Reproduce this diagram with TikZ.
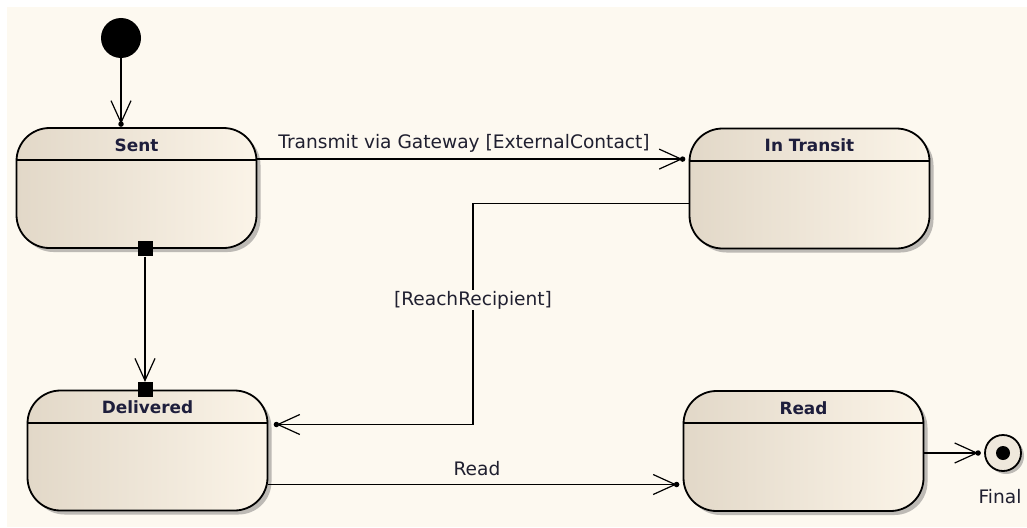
\documentclass[tikz,border=0pt]{standalone}
\usepackage{fontspec}
\setmainfont{DejaVu Sans}
\usetikzlibrary{arrows.meta,shadows,calc}
\definecolor{bgcream}{HTML}{FDF9F0}
\definecolor{boxL}{HTML}{E2D8C8}
\definecolor{boxR}{HTML}{FBF4E8}
\definecolor{shadowgray}{HTML}{BDBAB5}
\definecolor{finalfill}{HTML}{EFE8DC}
\definecolor{titlecol}{HTML}{1E1E3C}
\definecolor{lblcol}{HTML}{202030}
\begin{document}
\begin{tikzpicture}[x=1pt,y=-1pt,
  statebox/.style={draw=black, line width=1.8pt, rounded corners=33pt,
    minimum width=240pt, minimum height=120pt, inner sep=0pt,
    left color=boxL, right color=boxR,
    general shadow={fill=shadowgray, shadow xshift=4pt, shadow yshift=-4pt}},
  title/.style={font=\fontsize{16.9}{20}\selectfont\bfseries, text=titlecol},
  lbl/.style={font=\fontsize{18.6}{22}\selectfont, text=lblcol},
  trans/.style={draw, line width=1.6pt,
    -{Straight Barb[length=22pt,width=20pt,line width=1.2pt]}},
  tipdot/.style={fill=black, circle, inner sep=0pt, minimum size=5.5pt},
  sq/.style={fill=black, rectangle, inner sep=0pt, minimum size=15pt},
  hline/.style={line width=1.8pt}
]
\useasboundingbox (0,0) rectangle (1027,527);
\fill[white] (0,0) rectangle (1027,527);
\fill[bgcream] (7,7) rectangle (1027,527);

% states
\node[statebox] (sent) at (136.5,188) {};
\node[statebox] (transit) at (809.5,188.5) {};
\node[statebox] (delivered) at (147.5,450.5) {};
\node[statebox] (read) at (803.5,451) {};

\foreach \n in {sent,transit,delivered,read}{
  \draw[hline] ($(\n.north west)+(0,33)$) -- ($(\n.north east)+(0,33)$);
}
\node[title] (sentT) at ($(sent.north)+(0,18)$) {Sent};
\node[title] (transitT) at ($(transit.north)+(0,18)$) {In Transit};
\node[title] (deliveredT) at ($(delivered.north)+(0,18)$) {Delivered};
\node[title] (readT) at ($(read.north)+(0,18)$) {Read};

% initial
\node[circle, fill=black, minimum size=40pt, inner sep=0pt] (init) at (121,38) {};
\coordinate (t1) at ($(init.south |- sent.north)+(0,-3)$);
\draw[trans] (init) -- (t1);
\node[tipdot] at (t1) {};

% final
\node[circle, draw=black, line width=1.8pt, minimum size=36pt, inner sep=0pt,
  fill=finalfill, general shadow={fill=shadowgray, shadow xshift=3pt, shadow yshift=-3pt}] (final) at (1003,453) {};
\fill[black] (final.center) circle (7);
\node[lbl] (finalL) at (1000,497) {Final};

% Sent -> In Transit
\coordinate (t2s) at ($(sent.north east)+(0,32)$);
\coordinate (t2) at ($(transit.west |- t2s)+(-6,0)$);
\draw[trans] (t2s) -- (t2);
\node[tipdot] at (t2) {};
\node[lbl] (lt) at (464,143) {Transmit via Gateway [ExternalContact]};

% In Transit -> Delivered
\coordinate (r1) at ($(transit.west)+(0,15)$);
\coordinate (r2) at ($(delivered.east)+(8,-26)$);
\coordinate (rm) at (473,0);
\draw[trans] (r1) -| (rm |- r2) -- (r2);
\node[tipdot] at (r2) {};
\node[lbl, fill=bgcream, inner sep=1pt] (lr) at (473,300) {[ReachRecipient]};

% Delivered -> Read
\coordinate (d1) at ($(delivered.east)+(0,34)$);
\coordinate (d2) at ($(read.west |- d1)+(-6,0)$);
\draw[trans] (d1) -- (d2);
\node[tipdot] at (d2) {};
\node[lbl] (lread) at (477,469) {Read};

% Read -> Final
\coordinate (f1) at (read.east |- final);
\coordinate (f2) at ($(final.west)+(-6,0)$);
\draw[trans] (f1) -- (f2);
\node[tipdot] at (f2) {};

% Sent -> Delivered
\coordinate (cx) at (145,0);
\node[sq] (sq1) at (cx |- sent.south) {};
\node[sq] (sq2) at (cx |- delivered.north) {};
\draw[trans] (sq1) -- (sq2);
\end{tikzpicture}
\end{document}
